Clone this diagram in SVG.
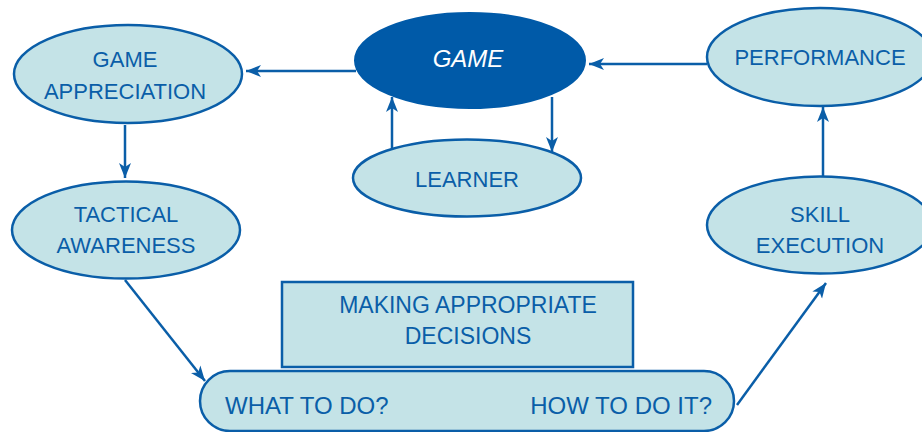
<svg xmlns="http://www.w3.org/2000/svg" width="922" height="432" viewBox="0 0 922 432">
<style>
.n{fill:#c4e3e7;stroke:#0a5ea8;stroke-width:2.5}
.t{font-family:"Liberation Sans",Arial,sans-serif;font-size:22px;fill:#0a5ea8;text-anchor:middle}
.w{font-family:"Liberation Sans",Arial,sans-serif;font-size:24px;fill:#ffffff;text-anchor:middle;font-style:italic}
.c{stroke:#0a5ea8;stroke-width:2.5;fill:none;marker-end:url(#ah)}
</style>
<defs>
<marker id="ah" markerUnits="userSpaceOnUse" markerWidth="16" markerHeight="14" refX="15" refY="7" orient="auto">
<path d="M0,1 L15,7 L0,13 L4,7 z" fill="#0a5ea8"/>
</marker>
</defs>
<rect width="922" height="432" fill="#ffffff"/>
<g id="connectors">
<line class="c" x1="356" y1="71" x2="246" y2="71"/>
<line class="c" x1="707" y1="64" x2="589" y2="64"/>
<line class="c" x1="392" y1="150" x2="392" y2="97"/>
<line class="c" x1="552" y1="97" x2="552" y2="152"/>
<line class="c" x1="125" y1="125" x2="125" y2="178"/>
<line class="c" x1="125" y1="280" x2="205" y2="381"/>
<line class="c" x1="737" y1="405" x2="826" y2="283"/>
<line class="c" x1="823" y1="177" x2="823" y2="107"/>
</g>
<g id="game">
<ellipse cx="470" cy="60.5" rx="115" ry="47.5" fill="#005aa8" stroke="#005aa8" stroke-width="2"/>
<text class="w" x="468" y="67">GAME</text>
</g>
<g id="game-appreciation">
<ellipse class="n" cx="128" cy="74" rx="114" ry="49"/>
<text class="t" x="125" y="67">GAME</text>
<text class="t" x="125" y="99">APPRECIATION</text>
</g>
<g id="learner">
<ellipse class="n" cx="467" cy="178" rx="114" ry="38.5"/>
<text class="t" x="467" y="187">LEARNER</text>
</g>
<g id="performance">
<ellipse class="n" cx="820" cy="57" rx="113" ry="49"/>
<text class="t" x="820" y="65">PERFORMANCE</text>
</g>
<g id="tactical-awareness">
<ellipse class="n" cx="126" cy="230" rx="114" ry="48.5"/>
<text class="t" x="126" y="222">TACTICAL</text>
<text class="t" x="126" y="253">AWARENESS</text>
</g>
<g id="skill-execution">
<ellipse class="n" cx="820" cy="225" rx="113" ry="48.5"/>
<text class="t" x="820" y="222">SKILL</text>
<text class="t" x="820" y="253">EXECUTION</text>
</g>
<g id="making-decisions">
<rect class="n" x="282" y="282" width="351" height="85"/>
<text class="t" x="468" y="313" style="font-size:23px">MAKING APPROPRIATE</text>
<text class="t" x="468" y="344" style="font-size:23px">DECISIONS</text>
</g>
<g id="what-how">
<rect class="n" x="200" y="371" width="534" height="60" rx="30" ry="30"/>
<text class="t" x="225" y="414" style="text-anchor:start;font-size:24px">WHAT TO DO?</text>
<text class="t" x="712" y="414" style="text-anchor:end;font-size:24px">HOW TO DO IT?</text>
</g>
</svg>
